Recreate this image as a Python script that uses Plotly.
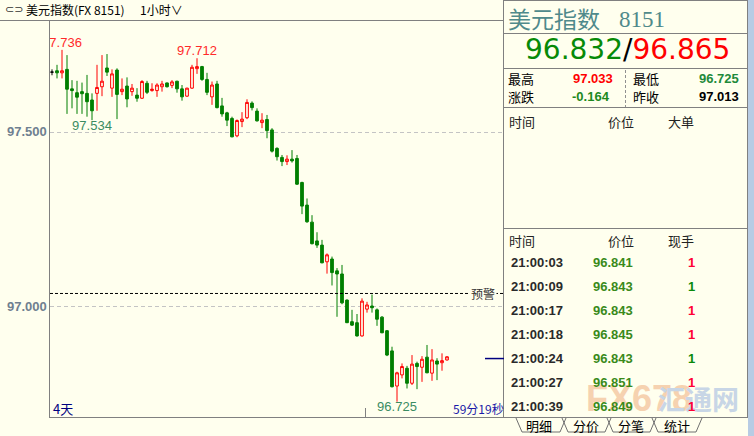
import plotly.graph_objects as go

W, H = 754, 436
BG = "#FFFFEE"
GREEN = "#007F00"
RED = "#FF0000"
CJK = "Noto Sans CJK SC"
SANS = "Liberation Sans"

# ---------------- data (1-hour candles, USD index) ----------------
opens = [97.672, 97.676, 97.670, 97.680, 97.624, 97.613, 97.616, 97.611, 97.592, 97.611,
         97.630, 97.684, 97.626, 97.678, 97.616, 97.632, 97.616, 97.606, 97.597, 97.640,
         97.619, 97.619, 97.630, 97.641, 97.634, 97.646, 97.624, 97.603, 97.626, 97.682,
         97.688, 97.651, 97.601, 97.638, 97.575, 97.555, 97.539, 97.489, 97.530, 97.541,
         97.583, 97.560, 97.527, 97.536, 97.506, 97.453, 97.427, 97.415, 97.422, 97.424,
         97.355, 97.290, 97.241, 97.187, 97.175, 97.127, 97.135, 97.101, 97.092, 97.017,
         96.955, 96.952, 96.914, 96.991, 97.000, 96.989, 96.968, 96.929, 96.871, 96.770,
         96.802, 96.821, 96.778, 96.835, 96.824, 96.853, 96.807, 96.842, 96.837, 96.845]
highs = [97.680, 97.693, 97.736, 97.721, 97.649, 97.647, 97.642, 97.664, 97.611, 97.693,
         97.721, 97.724, 97.680, 97.683, 97.654, 97.657, 97.638, 97.626, 97.649, 97.647,
         97.640, 97.640, 97.647, 97.642, 97.649, 97.647, 97.635, 97.627, 97.693, 97.712,
         97.690, 97.670, 97.645, 97.647, 97.598, 97.558, 97.544, 97.536, 97.557, 97.594,
         97.588, 97.568, 97.554, 97.549, 97.511, 97.456, 97.434, 97.433, 97.448, 97.434,
         97.357, 97.309, 97.261, 97.212, 97.190, 97.151, 97.142, 97.109, 97.118, 97.019,
         96.989, 96.977, 97.022, 97.012, 97.033, 96.993, 96.971, 96.931, 96.883, 96.811,
         96.835, 96.828, 96.859, 96.840, 96.856, 96.888, 96.876, 96.850, 96.864, 96.856]
lows = [97.663, 97.654, 97.654, 97.552, 97.568, 97.552, 97.552, 97.544, 97.534, 97.561,
        97.603, 97.661, 97.601, 97.537, 97.606, 97.571, 97.604, 97.587, 97.595, 97.609,
        97.616, 97.601, 97.616, 97.628, 97.626, 97.613, 97.590, 97.601, 97.624, 97.667,
        97.647, 97.606, 97.578, 97.568, 97.544, 97.517, 97.485, 97.485, 97.514, 97.537,
        97.562, 97.530, 97.511, 97.482, 97.441, 97.418, 97.402, 97.405, 97.412, 97.348,
        97.264, 97.239, 97.177, 97.167, 97.123, 97.093, 97.059, 96.969, 97.005, 96.951,
        96.943, 96.912, 96.912, 96.981, 96.981, 96.943, 96.922, 96.856, 96.766, 96.725,
        96.792, 96.763, 96.773, 96.761, 96.782, 96.807, 96.785, 96.787, 96.814, 96.843]
closes = [97.672, 97.670, 97.676, 97.623, 97.619, 97.600, 97.610, 97.587, 97.561, 97.628,
          97.646, 97.672, 97.667, 97.608, 97.623, 97.595, 97.626, 97.597, 97.645, 97.614,
          97.623, 97.635, 97.638, 97.630, 97.644, 97.624, 97.601, 97.626, 97.686, 97.688,
          97.651, 97.614, 97.635, 97.570, 97.552, 97.534, 97.486, 97.533, 97.537, 97.585,
          97.570, 97.532, 97.534, 97.504, 97.445, 97.429, 97.415, 97.422, 97.417, 97.350,
          97.287, 97.242, 97.179, 97.175, 97.124, 97.147, 97.096, 97.092, 97.009, 96.952,
          96.945, 96.914, 97.014, 97.003, 96.995, 96.962, 96.923, 96.859, 96.768, 96.808,
          96.826, 96.778, 96.833, 96.826, 96.847, 96.808, 96.845, 96.833, 96.843, 96.854]
xs = list(range(len(opens)))

ytick_vals = [97.0, 97.5]
ytick_text = ["97.000", "97.500"]
alert_price = 97.036
last_price = 96.849

# extreme labels: (candle index, value)
ext_hi = [(2, 97.736), (29, 97.712)]
ext_lo = [(8, 97.534), (69, 96.725)]

# right panel data
bid, ask = "96.832", "96.865"
day_high, day_low, change, prev_close = "97.033", "96.725", "-0.164", "97.013"
tick_times = ["21:00:03", "21:00:09", "21:00:17", "21:00:18", "21:00:24", "21:00:27", "21:00:39"]
tick_prices = ["96.841", "96.843", "96.843", "96.845", "96.843", "96.851", "96.849"]
tick_vols = ["1", "1", "1", "1", "1", "1", "1"]
tick_up = [True, False, True, True, False, True, True]

# ---------------- helpers ----------------
def px(x):
    return x / W

def py(y):
    return 1 - y / H

Y_TOP_PX, Y_BOT_PX = 20, 417
X_L_PX, X_R_PX = 50, 504
PPU = 348.0  # pixels per index point (97.5 at y=132, 97.0 at y=306)
y_top = 97.5 + (132 - Y_TOP_PX) / PPU
y_bot = 97.5 - (Y_BOT_PX - 132) / PPU
x_min = -0.4
x_max = x_min + (X_R_PX - X_L_PX) / 5.0

fig = go.Figure()

# doji (first candle, black)
fig.add_trace(go.Candlestick(
    x=xs[:1], open=opens[:1], high=highs[:1], low=lows[:1], close=closes[:1],
    increasing=dict(line=dict(color="#000000", width=1), fillcolor="#000000"),
    decreasing=dict(line=dict(color="#000000", width=1), fillcolor="#000000"),
    whiskerwidth=0, hoverinfo="skip", showlegend=False))

fig.add_trace(go.Candlestick(
    x=xs[1:], open=opens[1:], high=highs[1:], low=lows[1:], close=closes[1:],
    increasing=dict(line=dict(color=RED, width=1), fillcolor=BG),
    decreasing=dict(line=dict(color=GREEN, width=1), fillcolor=GREEN),
    whiskerwidth=0, hoverinfo="skip", showlegend=False))

# extreme value labels (clipped to plot area)
fig.add_trace(go.Scatter(
    x=[i for i, v in ext_hi], y=[v for i, v in ext_hi],
    text=[f"{v:.3f}" for i, v in ext_hi], mode="text", textposition="top center",
    textfont=dict(family=SANS, size=13, color="#FF2A2A"),
    cliponaxis=True, hoverinfo="skip", showlegend=False))
fig.add_trace(go.Scatter(
    x=[i for i, v in ext_lo], y=[v for i, v in ext_lo],
    text=[f"{v:.3f}" for i, v in ext_lo], mode="text", textposition="bottom center",
    textfont=dict(family=SANS, size=13, color="#3A8C62"),
    cliponaxis=True, hoverinfo="skip", showlegend=False))

shapes = []
GRAY = "#808080"

def line(x0, y0, x1, y1, color=GRAY, width=1, dash=None):
    d = dict(type="line", xref="paper", yref="paper", x0=px(x0), x1=px(x1),
             y0=py(y0), y1=py(y1), line=dict(color=color, width=width))
    if dash:
        d["line"]["dash"] = dash
    shapes.append(d)

# right scroll strip
shapes.append(dict(type="rect", xref="paper", yref="paper", x0=px(748), x1=1, y0=0, y1=1,
                   fillcolor="#B8CCE4", line=dict(width=0), layer="below"))
# top bar line
line(0, 20.5, 503, 20.5)
# panel borders
line(503.5, 0, 503.5, 418)
line(747.5, 0, 747.5, 418)
line(503, 0.5, 748, 0.5)
line(503, 33.5, 748, 33.5)
line(503, 68.5, 748, 68.5)
line(503, 107.5, 748, 107.5)
line(503, 228.5, 748, 228.5)
line(503, 417.5, 748, 417.5)
line(625.5, 70, 625.5, 107, color="#909090", dash="3px,2px")
# alert line & last price marker
shapes.append(dict(type="line", xref="paper", yref="y", x0=px(50), x1=px(503),
                   y0=alert_price, y1=alert_price,
                   line=dict(color="#000000", width=1, dash="3px,2px")))
shapes.append(dict(type="line", xref="paper", yref="y", x0=px(485), x1=px(504),
                   y0=last_price, y1=last_price, line=dict(color="#000080", width=1.5)))
# small day tick at bottom
line(365.5, 408, 365.5, 417)
# tabs
for xl, xr in [(516, 566), (562, 611), (607, 656), (652, 702)]:
    path = (f"M {px(xl)},{py(418)} L {px(xl+6)},{py(432)} "
            f"L {px(xr-6)},{py(432)} L {px(xr)},{py(418)}")
    shapes.append(dict(type="path", xref="paper", yref="paper", path=path,
                       line=dict(color="#707070", width=1)))

ann = []

def text(t, x, y, size=13, color="#000000", xanchor="left", family=CJK, weight="normal", bg=None):
    a = dict(text=t, x=px(x), y=py(y), xref="paper", yref="paper", showarrow=False,
             xanchor=xanchor, yanchor="middle",
             font=dict(family=family, size=size, color=color, weight=weight))
    if bg:
        a["bgcolor"] = bg
    ann.append(a)

# watermark (faint)
text("FX678", 584, 398, size=36, color="#F6D2B0", family=SANS, weight="bold")
text("汇通网", 656, 398, size=27, color="#C8D6E6", weight="bold")

# y-axis tick labels (right-aligned against the axis)
for v, t in zip(ytick_vals, ytick_text):
    ann.append(dict(text=t, x=px(48.5), y=v, xref="paper", yref="y", showarrow=False,
                    xanchor="right", yanchor="middle",
                    font=dict(family=SANS, size=13, color="#6F8090", weight="bold")))

# top bar
text("⊂⊃", 3, 10, size=11, color="#333333", family="DejaVu Sans")
text("美元指数(FX 8151)", 24, 10, size=12)
text("1小时∨", 138, 10, size=12)

# chart labels
text("预警", 469, 293, size=12, color="#333333", bg=BG)
text("4天", 51, 408, size=13, color="#000080")
text("59分19秒", 451, 408, size=12, color="#1A1AA8")

# right panel
text("美元指数", 506, 18, size=23, color="#4F8A8B")
text("8151", 617, 19, size=23, color="#4F8A8B", family="Liberation Serif")
text(f'<span style="color:#078A07">{bid}</span><span style="color:#000000">/</span>'
     f'<span style="color:#FF0000">{ask}</span>', 627.5, 50, size=28,
     family="DejaVu Sans", xanchor="center")
text("最高", 506, 79)
text(day_high, 615, 79, color="#FF0000", xanchor="right", family=SANS, weight="bold")
text("最低", 631, 79)
text(day_low, 741, 79, color="#1E8A3A", xanchor="right", family=SANS, weight="bold")
text("涨跌", 506, 97)
text(change, 612, 97, color="#1E8A1E", xanchor="right", family=SANS, weight="bold")
text("昨收", 631, 97)
text(prev_close, 741, 97, color="#000000", xanchor="right", family=SANS, weight="bold")

text("时间", 507, 121, color="#222222")
text("价位", 606, 121, color="#222222")
text("大单", 666, 121, color="#222222")
text("时间", 507, 240, color="#222222")
text("价位", 606, 240, color="#222222")
text("现手", 666, 240, color="#222222")

row_y = [262, 286, 310, 334, 358, 382, 406]
for t, p, v, up, y in zip(tick_times, tick_prices, tick_vols, tick_up, row_y):
    text(t, 509, y, color="#2A2A2A", family=SANS, weight="bold")
    text(p, 635, y, color="#3A8A1A", xanchor="right", family=SANS, weight="bold")
    text(v, 691, y, color="#FF0033" if up else "#0A8A0A", xanchor="center", family=SANS, weight="bold")

for t, x in [("明细", 539), ("分价", 586), ("分笔", 631), ("统计", 677)]:
    text(t, x, 425, size=13, xanchor="center")

fig.update_layout(
    width=W, height=H,
    margin=dict(l=0, r=0, t=0, b=0),
    paper_bgcolor=BG, plot_bgcolor=BG,
    showlegend=False, boxgap=0.22,
    shapes=shapes, annotations=ann,
    xaxis=dict(domain=[px(X_L_PX), px(X_R_PX)], range=[x_min, x_max],
               showgrid=False, zeroline=False, showticklabels=False,
               showline=True, linecolor=GRAY, linewidth=1,
               rangeslider=dict(visible=False), fixedrange=True),
    yaxis=dict(domain=[py(Y_BOT_PX), py(Y_TOP_PX)], range=[y_bot, y_top],
               tickvals=ytick_vals, showticklabels=False,
               showgrid=True, gridcolor="#C4C4C4", griddash="4px,3px", gridwidth=1,
               zeroline=False, showline=True, linecolor=GRAY, linewidth=1,
               ticks="", fixedrange=True),
)

fig.write_html("out.html", config={"displayModeBar": False},
               post_script="document.body.style.margin='0';document.body.style.overflow='hidden';")
